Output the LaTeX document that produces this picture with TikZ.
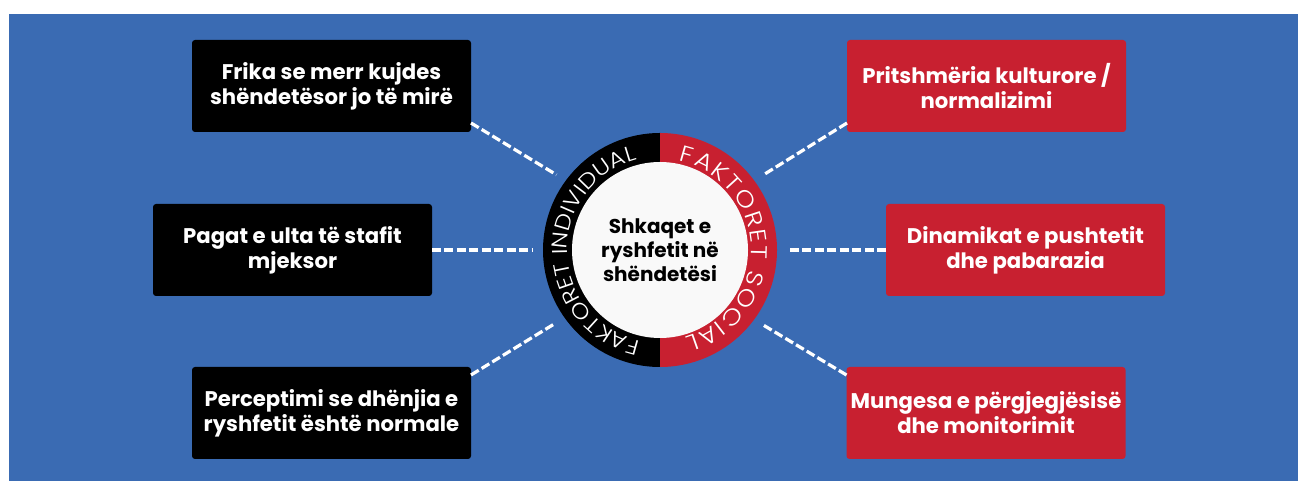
\documentclass[tikz,border=0pt]{standalone}
\usepackage{fontspec}
\setmainfont{Poppins}
\newfontfamily\ringfont{Poppins Light}[FakeStretch=1.15]
\usetikzlibrary{decorations.text,calc}
\definecolor{bgblue}{RGB}{58,107,179}
\definecolor{boxred}{RGB}{200,32,48}
\definecolor{hubwhite}{RGB}{249,249,249}
\begin{document}
\begin{tikzpicture}[x=0.75pt,y=0.75pt,
  box/.style={rectangle, rounded corners=2.25pt, minimum width=209.25pt, minimum height=69pt,
    inner sep=0pt, outer sep=0pt, text=white, align=center,
    font=\bfseries\fontsize{15.9}{18.75}\selectfont},
  blackbox/.style={box, fill=black},
  redbox/.style={box, fill=boxred},
  guide/.style={circle, minimum size=192pt, inner sep=0pt, outer sep=0pt},
  hubc/.style={circle, fill=hubwhite, minimum size=132pt, inner sep=0pt, align=center,
    font=\bfseries\fontsize{15}{18}\selectfont, text=black},
  conn/.style={draw=white, line width=2.4pt, dash pattern=on 6.75pt off 2.6pt}
]
\useasboundingbox (0,0) rectangle (1298,481);
\fill[white] (0,0) rectangle (1298,481);
\fill[bgblue] (9,0) rectangle (1298,467);
\coordinate (hub) at (660,231);
\node[guide] (guide) at (hub) {};

\node[blackbox] (b1) at (331.5,395) {Frika se merr kujdes\\shëndetësor jo të mirë};
\node[blackbox] (b2) at (292.5,231) {Pagat e ulta të stafit\\mjeksor};
\node[blackbox] (b3) at (331.5,68) {Perceptimi se dhënjia e\\ryshfetit është normale};
\node[redbox] (r1) at (986.5,395) {Pritshmëria kulturore /\\normalizimi};
\node[redbox] (r2) at (1025.5,231) {Dinamikat e pushtetit\\dhe pabarazia};
\node[redbox] (r3) at (986,68) {Mungesa e përgjegjësisë\\dhe monitorimit};

\draw[conn] ([yshift=6.75pt]b1.south east) -- (guide.144.5);
\draw[conn] (b2.east) -- (guide.180);
\draw[conn] ([yshift=-6pt]b3.north east) -- (guide.215.5);
\draw[conn] ([yshift=6.75pt]r1.south west) -- (guide.36.8);
\draw[conn] (r2.west) -- (guide.0);
\draw[conn] ([yshift=-6pt]r3.north west) -- (guide.-36);

\fill[black] ($(hub)+(90:117)$) arc[start angle=90, end angle=270, radius=117] -- cycle;
\fill[boxred] ($(hub)+(-90:117)$) arc[start angle=-90, end angle=90, radius=117] -- cycle;
\node[hubc] (center) at (hub) {Shkaqet e\\ryshfetit në\\shëndetësi};

\path[decorate, decoration={text along path,
   text={|\ringfont\fontsize{16}{16}\selectfont\color{white}|FAKTORET INDIVIDUAL},
   text align={fit to path}}]
   ($(hub)+(258:93)$) arc[start angle=258, end angle=104, radius=93];
\path[decorate, decoration={text along path,
   text={|\ringfont\fontsize{17}{17}\selectfont\color{white}|FAKTORET SOCIAL},
   text align={fit to path}}]
   ($(hub)+(78:91)$) arc[start angle=78, end angle=-74, radius=91];
\end{tikzpicture}
\end{document}
